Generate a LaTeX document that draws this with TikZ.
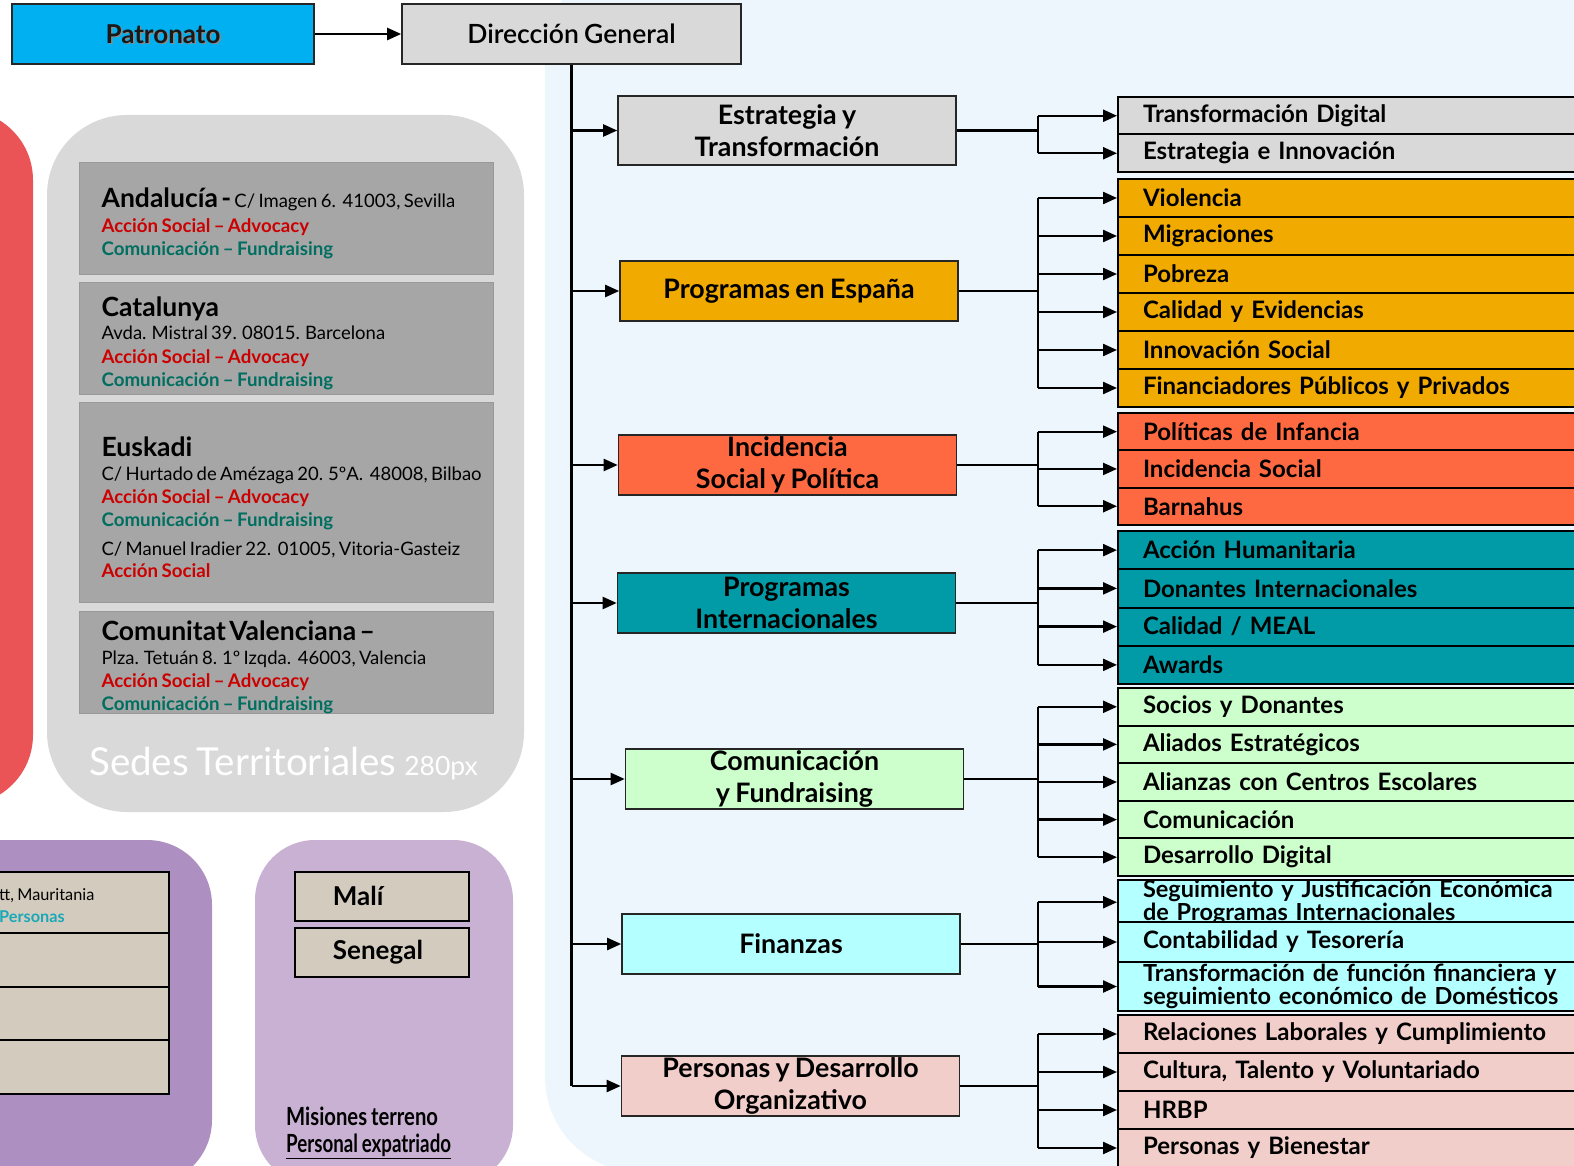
\documentclass[tikz,border=0pt]{standalone}
\usepackage{fontspec}
\usepackage{graphicx}
\setmainfont{Lato}[WordSpace=0.8]
\newfontfamily\latosb{Lato Semibold}[WordSpace=0.8]
\usetikzlibrary{arrows.meta}

\definecolor{patrocol}{RGB}{0,176,240}
\definecolor{dircol}{RGB}{217,217,217}
\definecolor{bgblue}{RGB}{238,246,253}
\definecolor{sedegray}{RGB}{217,217,217}
\definecolor{sedebox}{RGB}{166,166,166}
\definecolor{redside}{RGB}{234,84,86}
\definecolor{purpdark}{RGB}{174,143,193}
\definecolor{purplight}{RGB}{201,177,211}
\definecolor{beige}{RGB}{211,204,190}
\definecolor{espcol}{RGB}{241,170,0}
\definecolor{inccol}{RGB}{255,105,65}
\definecolor{intcol}{RGB}{0,155,166}
\definecolor{comcol}{RGB}{204,255,204}
\definecolor{fincol}{RGB}{180,255,255}
\definecolor{percol}{RGB}{242,206,202}
\definecolor{accred}{RGB}{204,0,0}
\definecolor{comteal}{RGB}{0,110,96}
\definecolor{perscyan}{RGB}{26,168,184}

% lines of the territorial offices
\newcommand\sedt[2]{{\fontsize{26.5}{26}\selectfont\mbox{\rule{0pt}{29pt}\bfseries #1\fontsize{18.5}{26}\selectfont\mdseries #2}\par}}
\newcommand\adrl[2][23.5]{{\fontsize{18.5}{#1}\selectfont\mbox{#2}\par}}
\newcommand\redl[2][23.5]{{\fontsize{18.7}{#1}\selectfont\bfseries\color{accred}\mbox{#2}\par}}
\newcommand\teall[1]{{\fontsize{18.7}{22.5}\selectfont\bfseries\color{comteal}\mbox{#1}\par}}

\tikzset{
  >={Triangle[length=14pt,width=12pt]},
  conn/.style={line width=2.3pt, draw=black},
  topbox/.style={draw=black!85, line width=1.6pt, minimum width=#1, minimum height=60pt, inner sep=0pt},
  lvl/.style={draw=black!85, line width=1.6pt, minimum width=338pt, minimum height=60pt, inner sep=0pt,
    align=center, font=\bfseries\fontsize{26.8}{32}\selectfont},
  sub/.style={draw=black, line width=2pt, anchor=north west, minimum width=520pt, text width=470pt,
    inner xsep=23pt, inner ysep=0pt, align=left, font=\bfseries\fontsize{24}{24}\selectfont},
  sede/.style={fill=sedebox, draw=black!40, line width=1.2pt, anchor=north west, minimum width=414pt,
    text width=370pt, inner xsep=22pt, inner ysep=0pt, align=left},
  ctry/.style={fill=beige, draw=black, line width=1.8pt, anchor=north west, inner sep=0pt}
}

\begin{document}
\begin{tikzpicture}[x=1pt,y=-1pt]
  \useasboundingbox (0,0) rectangle (1574,1166);
  \clip (0,0) rectangle (1574,1166);

  % panels
  \fill[bgblue, rounded corners=95pt] (545,-40) rectangle (1700,1172);
  \fill[redside, rounded corners=70pt] (-80,110) rectangle (33,805);
  \fill[sedegray, rounded corners=80pt] (47,115) rectangle (524,812);
  \fill[purpdark, rounded corners=65pt] (-100,840) rectangle (212,1185);
  \fill[purplight, rounded corners=60pt] (255,840) rectangle (513,1185);

  % top
  \node[topbox=302pt, fill=patrocol] (patro) at (163,34) {};
  \node[font=\bfseries\fontsize{26}{26}\selectfont, text=black!45] (patroshd) at ([xshift=1.5pt,yshift=-1.5pt]patro.center) {Patronato};
  \node[font=\bfseries\fontsize{26}{26}\selectfont, text=black!90] (patrotxt) at (patro.center) {Patronato};
  \node[topbox=339pt, fill=dircol, font=\latosb\fontsize{26.5}{26}\selectfont] (dirg) at (571.5,34) {Dirección General};
  \draw[conn,->] (patro) -- (dirg);

  % areas
  \node[lvl, fill=dircol, minimum height=69pt] (est) at (787,130.5) {Estrategia y\\Transformación};
  \node[lvl, fill=espcol] (esp) at (789,291) {Programas en España};
  \node[lvl, fill=inccol] (inc) at (787.5,465) {Incidencia\\Social y Política};
  \node[lvl, fill=intcol] (int) at (786.5,603) {Programas\\Internacionales};
  \node[lvl, fill=comcol] (com) at (794.5,779) {Comunicación\\y Fundraising};
  \node[lvl, fill=fincol] (fin) at (791,944) {Finanzas};
  \node[lvl, fill=percol] (pers) at (790.5,1086) {Personas y Desarrollo\\Organizativo};

  % departments
  \foreach \name/\txt [count=\i from 0] in {tdig/Transformación Digital, einn/Estrategia e Innovación}
    \node[sub, fill=dircol, minimum height=37.5pt] (\name) at (1117,{96+37.5*\i}) {\txt};
  \foreach \name/\txt [count=\i from 0] in {viol/Violencia, migr/Migraciones, pobr/Pobreza,
      calev/Calidad y Evidencias, innov/Innovación Social, finpp/Financiadores Públicos y Privados}
    \node[sub, fill=espcol, minimum height=38pt] (\name) at (1117,{178+38*\i}) {\txt};
  \foreach \name/\txt [count=\i from 0] in {polinf/Políticas de Infancia, incsoc/Incidencia Social, barn/Barnahus}
    \node[sub, fill=inccol, minimum height=37.3pt] (\name) at (1117,{412+37.3*\i}) {\txt};
  \foreach \name/\txt [count=\i from 0] in {ahum/Acción Humanitaria, donint/Donantes Internacionales,
      meal/{Calidad / MEAL}, awards/Awards}
    \node[sub, fill=intcol, minimum height=38.25pt] (\name) at (1117,{530+38.25*\i}) {\txt};
  \foreach \name/\txt [count=\i from 0] in {socios/Socios y Donantes, aliad/Aliados Estratégicos,
      alian/Alianzas con Centros Escolares, comu/Comunicación, desdig/Desarrollo Digital}
    \node[sub, fill=comcol, minimum height=37.6pt] (\name) at (1117,{687+37.6*\i}) {\txt};
  \node[sub, fill=fincol, minimum height=42pt, font=\bfseries\fontsize{23.5}{17}\selectfont] (segj) at (1117,879)
    {\lineskiplimit=-50pt Seguimiento y Justificación Económica\\de Programas Internacionales};
  \node[sub, fill=fincol, minimum height=40pt] (conta) at (1117,921) {Contabilidad y Tesorería};
  \node[sub, fill=fincol, minimum height=49pt, font=\bfseries\fontsize{23.5}{19}\selectfont] (tff) at (1117,961)
    {\lineskiplimit=-50pt Transformación de función financiera y\\seguimiento económico de Domésticos};
  \foreach \name/\txt [count=\i from 0] in {rellab/Relaciones Laborales y Cumplimiento,
      cult/{Cultura, Talento y Voluntariado}, hrbp/HRBP, pbien/Personas y Bienestar}
    \node[sub, fill=percol, minimum height=38pt] (\name) at (1117,{1014+38*\i}) {\txt};

  % trunk
  \draw[conn] (dirg.south) -- (dirg.south |- pers.west);
  \foreach \n in {est,esp,inc,int,com,fin,pers}
    \draw[conn,->] (dirg.south |- \n.west) -- (\n.west);

  % brackets
  \coordinate (brk) at (1038,0);
  \foreach \n/\a/\b in {est/tdig/einn, esp/viol/finpp, inc/polinf/barn, int/ahum/awards,
      com/socios/desdig, fin/segj/tff, pers/rellab/pbien} {
    \draw[conn] (\n.east) -- (\n.east -| brk);
    \draw[conn] (brk |- \a.west) -- (brk |- \b.west);
  }
  \foreach \s in {tdig,einn,viol,migr,pobr,calev,innov,finpp,polinf,incsoc,barn,ahum,donint,meal,awards,
      socios,aliad,alian,comu,desdig,segj,conta,tff,rellab,cult,hrbp,pbien}
    \draw[conn,->] (brk |- \s.west) -- (\s.west);

  % territorial offices
  \node[sede, minimum height=112pt] (andal) at (79,162) {%
    \sedt{Andalucía - }{C/ Imagen 6.\ \ 41003, Sevilla}\redl[25]{Acción Social – Advocacy}\teall{Comunicación – Fundraising}};
  \node[sede, minimum height=112pt] (catal) at (79,282) {%
    \sedt{Catalunya}{}\adrl{Avda. Mistral 39. 08015. Barcelona}\redl[24]{Acción Social – Advocacy}\teall{Comunicación – Fundraising}};
  \node[sede, minimum height=200pt] (euska) at (79,402) {%
    \sedt{Euskadi}{}\adrl{C/ Hurtado de Amézaga 20. 5ºA.\ \ 48008, Bilbao}\redl{Acción Social – Advocacy}%
    \teall{Comunicación – Fundraising}\adrl[29]{C/ Manuel Iradier 22.\ \ 01005, Vitoria-Gasteiz}\redl[22]{Acción Social}};
  \node[sede, minimum height=101pt] (valen) at (79,611) {%
    \sedt{Comunitat Valenciana –}{}\adrl{Plza. Tetuán 8. 1º Izqda.\ \ 46003, Valencia}\redl{Acción Social – Advocacy}\teall{Comunicación – Fundraising}};
  \node[anchor=base west, inner sep=0pt, text=white, font=\fontsize{38.5}{38}\selectfont] (sedlbl) at (89,775)
    {Sedes Territoriales {\fontsize{26.5}{26}\selectfont 280px}};

  % field offices
  \node[ctry, minimum width=188pt, minimum height=61pt] (nouak) at (-20,871) {};
  \node[ctry, minimum width=188pt, minimum height=54pt] (ctry2) at (-20,932) {};
  \node[ctry, minimum width=188pt, minimum height=53pt] (ctry3) at (-20,986) {};
  \node[ctry, minimum width=188pt, minimum height=54pt] (ctry4) at (-20,1039) {};
  \node[anchor=west, inner sep=0pt, align=left, font=\fontsize{16.3}{22}\selectfont] (nouaktxt) at (-1,906)
    {tt, Mauritania\\{\bfseries\color{perscyan}Personas}};

  \node[ctry, minimum width=174pt, minimum height=49pt, text width=98pt, inner xsep=38pt, align=left,
    font=\bfseries\fontsize{26}{26}\selectfont] (mali) at (294,871) {Malí};
  \node[ctry, minimum width=174pt, minimum height=49pt, text width=98pt, inner xsep=38pt, align=left,
    font=\bfseries\fontsize{26}{26}\selectfont] (seneg) at (294,927) {Senegal};
  \node[anchor=west, inner sep=0pt] (misio) at (286,1116)
    {\scalebox{0.81}[1]{\fontsize{25}{25}\selectfont\bfseries Misiones terreno}};
  \node[anchor=west, inner sep=0pt] (expat) at (286,1146)
    {\scalebox{0.75}[1]{\fontsize{25}{25}\selectfont\bfseries\underline{Personal expatriado}}};
\end{tikzpicture}
\end{document}
